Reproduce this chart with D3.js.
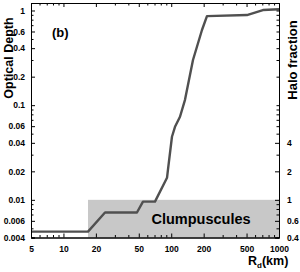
<!DOCTYPE html>
<html>
<head>
<meta charset="utf-8">
<script src="https://cdn.jsdelivr.net/npm/d3@7/dist/d3.min.js"></script>
<style>
  html, body { margin: 0; padding: 0; background: #fff; }
  svg { display: block; }
  text { font-family: "Liberation Sans", Arial, sans-serif; font-weight: bold; fill: #000; }
</style>
</head>
<body>
<svg id="chart" width="300" height="272"></svg>
<script>
// ---- data ----
const radiusKm = [5, 16.9, 24.3, 48.1, 54.7, 70.7, 91.4, 93.3, 101.6, 108.4, 120.6, 134.2, 159.2, 192.9, 214.6, 504, 598, 709, 1000];
const opticalDepth = [0.00462, 0.00462, 0.00734, 0.00734, 0.00958, 0.00958, 0.0171, 0.0208, 0.0464, 0.0591, 0.0754, 0.1138, 0.300, 0.622, 0.873, 0.895, 0.95, 1.011, 1.03];
const clumpRange = [16.9, 1000];      // R_d extent of shaded region
const clumpDepth = [0.004, 0.01];     // optical depth extent of shaded region
const clumpLabel = "Clumpuscules";
const xTickLabels = [5, 10, 20, 50, 100, 200, 500, 1000];
const yTickLabels = [0.004, 0.006, 0.01, 0.02, 0.04, 0.06, 0.1, 0.2, 0.4, 0.6, 1];
const haloTickLabels = [0.4, 0.6, 1, 2, 4];
const xDomain = [5, 1000];
const yDomain = [0.004, 1.2];
const haloFactor = 100;

// ---- layout ----
const L = 31, R = 279, T = 3, B = 237.5;
const svg = d3.select("#chart");

const x = d3.scaleLog().domain(xDomain).range([L, R]);
const y = d3.scaleLog().domain(yDomain).range([B, T]);
const yHalo = d3.scaleLog().domain(yDomain.map(d => d * haloFactor)).range([B, T]);

// shaded region
svg.append("rect")
  .attr("x", x(clumpRange[0]))
  .attr("y", y(clumpDepth[1]))
  .attr("width", x(clumpRange[1]) - x(clumpRange[0]))
  .attr("height", y(clumpDepth[0]) - y(clumpDepth[1]))
  .attr("fill", "#c8c8c8");

svg.append("text")
  .attr("x", 201).attr("y", 224)
  .attr("text-anchor", "middle")
  .style("font-size", "14.5px")
  .text(clumpLabel);

// curve
const pts = radiusKm.map((r, i) => [r, opticalDepth[i]]);
svg.append("path")
  .datum(pts)
  .attr("fill", "none")
  .attr("stroke", "#505050")
  .attr("stroke-width", 2.4)
  .attr("stroke-linejoin", "round")
  .attr("d", d3.line().x(d => x(d[0])).y(d => y(d[1])));

// ---- axes ----
const fmt = d => String(d);
function isLabel(list, v) { return list.some(t => Math.abs(t - v) / t < 1e-6); }

const xAll = x.ticks(20).filter(v => v >= xDomain[0] && v <= xDomain[1]);
const yAll = y.ticks(30).filter(v => v >= yDomain[0] && v <= yDomain[1]);
const hAll = yHalo.ticks(30);

function drawAxis(gen, transform, cls) {
  const g = svg.append("g").attr("transform", transform).call(gen);
  g.selectAll("line").attr("stroke", "#000");
  g.selectAll("path").attr("stroke", "#000");
  g.selectAll("text").style("font-size", "8.5px").style("font-weight", "bold").style("font-family", '"Liberation Sans", Arial, sans-serif');
  return g;
}

// bottom minor + major
drawAxis(d3.axisBottom(x).tickValues(xAll.filter(v => !isLabel(xTickLabels, v))).tickSize(-2.5).tickFormat(""), `translate(0,${B})`);
drawAxis(d3.axisBottom(x).tickValues(xTickLabels).tickSize(-4).tickPadding(8).tickFormat(fmt), `translate(0,${B})`);
// top
drawAxis(d3.axisTop(x).tickValues(xAll.filter(v => !isLabel(xTickLabels, v))).tickSize(-2.5).tickFormat(""), `translate(0,${T})`);
drawAxis(d3.axisTop(x).tickValues(xTickLabels).tickSize(-4).tickFormat(""), `translate(0,${T})`);
// left
drawAxis(d3.axisLeft(y).tickValues(yAll.filter(v => !isLabel(yTickLabels, v))).tickSize(-2.5).tickFormat(""), `translate(${L},0)`);
drawAxis(d3.axisLeft(y).tickValues(yTickLabels).tickSize(-4).tickPadding(6).tickFormat(fmt), `translate(${L},0)`);
// right (halo fraction)
drawAxis(d3.axisRight(yHalo).tickValues(hAll.filter(v => !isLabel(haloTickLabels, v))).tickSize(-2.5).tickFormat(""), `translate(${R},0)`);
drawAxis(d3.axisRight(yHalo).tickValues(haloTickLabels).tickSize(-4).tickPadding(8).tickFormat(fmt), `translate(${R},0)`);

svg.selectAll(".domain").attr("stroke-width", 1);

// ---- titles ----
svg.append("text")
  .attr("x", 52).attr("y", 37)
  .style("font-size", "13px")
  .text("(b)");

svg.append("text")
  .attr("transform", `translate(13,58) rotate(-90)`)
  .attr("text-anchor", "middle")
  .style("font-size", "12.5px")
  .text("Optical Depth");

svg.append("text")
  .attr("transform", `translate(297,60) rotate(-90)`)
  .attr("text-anchor", "middle")
  .style("font-size", "13px")
  .text("Halo fraction");

const xt = svg.append("text")
  .attr("x", 248).attr("y", 265)
  .style("font-size", "12.5px");
xt.append("tspan").text("R");
xt.append("tspan").attr("dy", 3).style("font-size", "8px").text("d");
xt.append("tspan").attr("dy", -3).text("(km)");
</script>
</body>
</html>
